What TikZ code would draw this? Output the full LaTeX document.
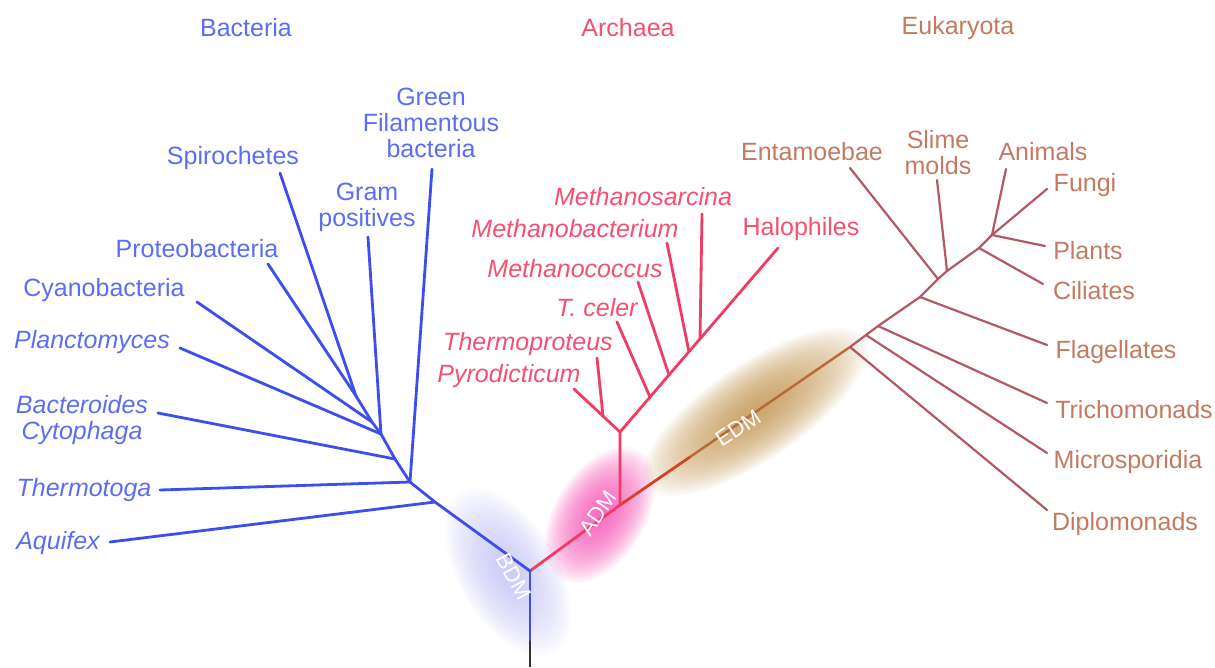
\documentclass[tikz,border=0pt]{standalone}
\usepackage{fontspec}
\setmainfont{Liberation Sans}
\usetikzlibrary{positioning}
\definecolor{bacline}      {RGB}{ 60,  78, 238}
\definecolor{bactext}      {RGB}{ 90, 110, 245}
\definecolor{archline}     {RGB}{240,  60, 100}
\definecolor{archtext}     {RGB}{245,  80, 112}
\definecolor{eukline}      {RGB}{180,  88, 100}
\definecolor{euktext}      {RGB}{196, 122,  96}
\definecolor{trunkred}     {RGB}{215,  65,  40}
\definecolor{trunkbrown}   {RGB}{185, 105,  55}
\definecolor{bdmpatch}     {RGB}{185, 185, 245}
\definecolor{admpatch}     {RGB}{245,  80, 180}
\definecolor{edmpatch}     {RGB}{192, 145,  75}

\begin{document}
\begin{tikzpicture}[x=1pt,y=-1pt,
	lbl/.style={font=\fontsize{25}{26}\selectfont, inner sep=0pt, align=center},
	tag/.style={font=\fontsize{22}{24}\selectfont, inner sep=0pt, white},
	br/.style={line width=2.8pt, line cap=round},
	ebr/.style={line width=2.2pt, line cap=round, eukline}]
	\useasboundingbox (0,0) rectangle (1215,667);
	% soft patches
	\foreach \k in {1,...,30}{
		\fill[bdmpatch,fill opacity=0.045,rotate around={-60:(508,572)}] (508,572) ellipse ({3.1*\k} and {1.65*\k});
		\fill[admpatch,fill opacity=0.06,rotate around={58:(600,515)}] (600,515) ellipse ({2.5*\k} and {1.5*\k});
		\fill[edmpatch,fill opacity=0.055,rotate around={34:(755,412)}] (755,412) ellipse ({4.4*\k} and {1.6*\k});
	}
	% trunk
	\coordinate (base) at (530,667);
	\coordinate (low)  at (530,640);
	\coordinate (root) at (530,571);
	\coordinate (aADM) at (620,505);
	\coordinate (eMid) at (690,457);
	\draw[br,black!80,line cap=butt] (base)--(low);
	\draw[br,bacline] (low)--(root);
	\draw[br,archline] (root)--(aADM);
	\draw[br,trunkred] (aADM)--(eMid);
	\draw[line width=2.4pt,trunkbrown] (eMid)--(850,347) coordinate (eN0);
	% bacteria
	\coordinate (bAq) at (435,502);
	\coordinate (bTh) at (410,482);
	\coordinate (bBc) at (395,459);
	\coordinate (bGp) at (381,434);
	\coordinate (bCy) at (372,422);
	\coordinate (bSp) at (356,396);
	\coordinate (tAq) at (110,542);
	\coordinate (tTh) at (160,490);
	\coordinate (tGf) at (432,169);
	\coordinate (tBc) at (158,413);
	\coordinate (tGp) at (368,237);
	\coordinate (tPl) at (180,348);
	\coordinate (tCy) at (197,302);
	\coordinate (tPr) at (268,264);
	\coordinate (tSp) at (280,173);
	\draw[br,bacline] (root)--(bAq)--(bTh)--(bBc)--(bGp)--(bCy)--(bSp);
	\draw[br,bacline] (bAq)--(tAq);
	\draw[br,bacline] (bTh)--(tTh);
	\draw[br,bacline] (bTh)--(tGf);
	\draw[br,bacline] (bBc)--(tBc);
	\draw[br,bacline] (bGp)--(tGp);
	\draw[br,bacline] (bGp)--(tPl);
	\draw[br,bacline] (bCy)--(tCy);
	\draw[br,bacline] (bSp)--(tPr);
	\draw[br,bacline] (bSp)--(tSp);
	% archaea
	\coordinate (aN0) at (620,432);
	\coordinate (aTp) at (603,416);
	\coordinate (aTc) at (650,397);
	\coordinate (aMc) at (669,375);
	\coordinate (aMb) at (689,352);
	\coordinate (aMs) at (700,339);
	\coordinate (tPy) at (574,389);
	\coordinate (tTp) at (597,358);
	\coordinate (tTc) at (617,322);
	\coordinate (tMc) at (638,282);
	\coordinate (tMb) at (667,243);
	\coordinate (tMs) at (702,214);
	\coordinate (tHa) at (778,248);
	\draw[br,archline] (aADM)--(aN0)--(tHa);
	\draw[br,archline] (aN0)--(tPy);
	\draw[br,archline] (aTp)--(tTp);
	\draw[br,archline] (aTc)--(tTc);
	\draw[br,archline] (aMc)--(tMc);
	\draw[br,archline] (aMb)--(tMb);
	\draw[br,archline] (aMs)--(tMs);
	% eukaryota
	\coordinate (eMi) at (866,335);
	\coordinate (eTr) at (878,326);
	\coordinate (eFl) at (920,297);
	\coordinate (eEn) at (938,279);
	\coordinate (eSl) at (947,271);
	\coordinate (eCi) at (979,248);
	\coordinate (eCr) at (992,235);
	\coordinate (tDi) at (1047,510);
	\coordinate (tMi) at (1047,453);
	\coordinate (tTr) at (1047,403);
	\coordinate (tFl) at (1047,345);
	\coordinate (tCi) at (1043,284);
	\coordinate (tPn) at (1045,246);
	\coordinate (tFu) at (1047,189);
	\coordinate (tAn) at (1006,169);
	\coordinate (tSl) at (937,180);
	\coordinate (tEn) at (850,168);
	\draw[ebr] (eN0)--(eMi)--(eTr)--(eFl)--(eEn)--(eSl)--(eCi)--(eCr);
	\draw[ebr] (eN0)--(tDi);
	\draw[ebr] (eMi)--(tMi);
	\draw[ebr] (eTr)--(tTr);
	\draw[ebr] (eFl)--(tFl);
	\draw[ebr] (eEn)--(tEn);
	\draw[ebr] (eSl)--(tSl);
	\draw[ebr] (eCi)--(tCi);
	\draw[ebr] (eCr)--(tPn);
	\draw[ebr] (eCr)--(tFu);
	\draw[ebr] (eCr)--(tAn);
	% group titles
	\node[lbl,bactext]  (Tbac) at (246,28) {Bacteria};
	\node[lbl,archtext] (Tarc) at (628,28) {Archaea};
	\node[lbl,euktext]  (Teuk) at (958,28) {Eukaryota};
	% bacteria labels
	\node[lbl,bactext] (Lgf) at (431,123) {Green\\Filamentous\\bacteria};
	\node[lbl,bactext] (Lsp) at (233,158) {Spirochetes};
	\node[lbl,bactext] (Lgp) at (367,207) {Gram\\positives};
	\node[lbl,bactext] (Lpr) at (197,249) {Proteobacteria};
	\node[lbl,bactext] (Lcy) at (104,290) {Cyanobacteria};
	\node[lbl,bactext] (Lpl) at (92,342) {\itshape Planctomyces};
	\node[lbl,bactext] (Lbc) at (82,420) {\itshape Bacteroides\\\itshape Cytophaga};
	\node[lbl,bactext] (Lth) at (84,490) {\itshape Thermotoga};
	\node[lbl,bactext] (Laq) at (58,543) {\itshape Aquifex};
	% archaea labels
	\node[lbl,archtext] (Lms) at (643,197) {\itshape Methanosarcina};
	\node[lbl,archtext] (Lmb) at (575,229) {\itshape Methanobacterium};
	\node[lbl,archtext] (Lha) at (801,229) {Halophiles};
	\node[lbl,archtext] (Lmc) at (575,269) {\itshape Methanococcus};
	\node[lbl,archtext] (Ltc) at (597,308) {\itshape T. celer};
	\node[lbl,archtext] (Ltp) at (528,344) {\itshape Thermoproteus};
	\node[lbl,archtext] (Lpy) at (509,376) {\itshape Pyrodicticum};
	% eukaryota labels
	\node[lbl,euktext] (Len) at (812,152) {Entamoebae};
	\node[lbl,euktext] (Lsl) at (938,153) {Slime\\molds};
	\node[lbl,euktext] (Lan) at (1043,152) {Animals};
	\node[lbl,euktext] (Lfu) at (1085,185) {Fungi};
	\node[lbl,euktext] (Lpn) at (1088,251) {Plants};
	\node[lbl,euktext] (Lci) at (1094,291) {Ciliates};
	\node[lbl,euktext] (Lfl) at (1116,352) {Flagellates};
	\node[lbl,euktext] (Ltr) at (1134,410) {Trichomonads};
	\node[lbl,euktext] (Lmi) at (1128,462) {Microsporidia};
	\node[lbl,euktext] (Ldi) at (1125,524) {Diplomonads};
	% patch tags
	\node[tag,rotate=-62] (Tbdm) at (514,577) {BDM};
	\node[tag,rotate=55]  (Tadm) at (598,513) {ADM};
	\node[tag,rotate=33]  (Tedm) at (738,428) {EDM};
\end{tikzpicture}
\end{document}
